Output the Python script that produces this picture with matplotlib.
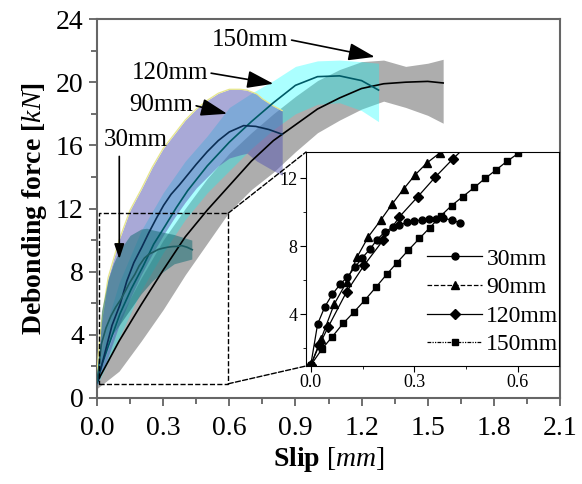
import matplotlib
matplotlib.use("Agg")
import matplotlib.pyplot as plt
from matplotlib.patches import Rectangle, ConnectionPatch
from matplotlib.lines import Line2D

plt.rcParams['font.family'] = ['Liberation Serif', 'DejaVu Serif']
plt.rcParams['mathtext.fontset'] = 'custom'
plt.rcParams['mathtext.rm'] = 'Liberation Serif'
plt.rcParams['mathtext.it'] = 'Liberation Serif:italic'
plt.rcParams['mathtext.bf'] = 'Liberation Serif:bold'

# ---------------- main plot data ----------------
# 150 mm (black line, gray band)
x150 = [0, 0.1, 0.2, 0.3, 0.4, 0.5, 0.6, 0.7, 0.8, 0.9, 1.0, 1.1, 1.2, 1.3, 1.4, 1.5, 1.57]
y150 = [1.0, 3.6, 5.9, 8.1, 10.2, 11.9, 13.45, 15.0, 16.3, 17.3, 18.3, 19.0, 19.6, 19.9, 20.0, 20.05, 19.95]
up150 = [1.2, 5.0, 7.6, 10.0, 12.0, 13.9, 15.5, 16.8, 18.0, 19.1, 20.1, 20.8, 21.3, 21.4, 21.0, 21.2, 21.45]
lo150 = [0.6, 1.7, 3.6, 5.6, 7.8, 9.8, 11.8, 13.2, 14.3, 15.6, 16.8, 17.6, 18.3, 18.8, 18.4, 17.9, 17.4]

# 120 mm (dark teal line, cyan band)
x120 = [0, 0.025, 0.051, 0.104, 0.155, 0.21, 0.257, 0.31, 0.36, 0.411, 0.5, 0.6, 0.7, 0.8, 0.9, 1.0, 1.1, 1.2, 1.277]
y120 = [1.0, 2.2, 3.27, 5.33, 6.9, 8.37, 9.74, 10.92, 12.06, 13.13, 14.7, 16.2, 17.5, 18.7, 19.8, 20.35, 20.4, 20.1, 19.5]
xb120 = [0, 0.05, 0.1, 0.2, 0.3, 0.4, 0.5, 0.6, 0.7, 0.8, 0.9, 1.0, 1.1, 1.2, 1.277]
up120 = [1.5, 5.0, 7.3, 10.6, 13.0, 15.0, 16.6, 18.4, 19.3, 20.1, 21.0, 21.35, 21.4, 21.3, 21.2]
lo120 = [0.8, 2.3, 3.8, 6.8, 9.2, 11.3, 13.0, 14.4, 15.8, 17.0, 18.0, 18.6, 18.7, 18.2, 17.5]

# 90 mm (navy line, lavender band)
x90 = [0, 0.03, 0.068, 0.104, 0.135, 0.167, 0.203, 0.235, 0.27, 0.302, 0.336, 0.374, 0.45, 0.5, 0.55, 0.6, 0.665, 0.72, 0.78, 0.84]
y90 = [1.0, 2.55, 4.6, 5.9, 7.4, 8.57, 9.55, 10.47, 11.4, 12.2, 12.9, 13.5, 14.8, 15.6, 16.3, 16.85, 17.25, 17.2, 17.0, 16.7]
xb90 = [0, 0.006, 0.021, 0.05, 0.1, 0.15, 0.2, 0.25, 0.3, 0.35, 0.4, 0.45, 0.5, 0.55, 0.6, 0.65, 0.68, 0.725, 0.75, 0.8, 0.84]
up90 = [1.5, 2.8, 4.9, 7.6, 10.0, 11.9, 13.2, 14.6, 15.8, 16.7, 17.6, 18.3, 18.85, 19.3, 19.55, 19.55, 19.5, 19.25, 18.95, 18.5, 18.2]
lo90 = [0.8, 1.0, 1.6, 2.6, 4.6, 6.3, 7.8, 9.1, 10.3, 11.4, 12.4, 13.3, 14.0, 14.7, 15.2, 15.4, 15.5, 15.0, 14.8, 14.4, 14.1]

# 30 mm (teal line, dark-teal band)
x30 = [0, 0.02, 0.041, 0.063, 0.085, 0.106, 0.128, 0.148, 0.172, 0.191, 0.215, 0.237, 0.257, 0.278, 0.30, 0.321, 0.343, 0.363, 0.384, 0.408, 0.432]
y30 = [1.0, 3.43, 4.45, 5.19, 5.76, 6.2, 6.76, 7.3, 7.84, 8.37, 8.86, 9.12, 9.25, 9.41, 9.49, 9.55, 9.59, 9.6, 9.65, 9.55, 9.39]
xb30 = [0, 0.014, 0.02, 0.05, 0.074, 0.1, 0.15, 0.2, 0.225, 0.25, 0.3, 0.35, 0.43]
up30 = [1.5, 3.5, 5.5, 7.5, 8.5, 9.3, 10.3, 10.7, 10.75, 10.65, 10.5, 10.35, 10.0]
lo30 = [0.7, 2.0, 2.3, 3.4, 4.1, 4.6, 5.6, 6.6, 7.0, 7.4, 8.0, 8.5, 8.8]

# ---------------- inset data ----------------
ix30, iy30 = x30, y30
ix90 = [0, 0.03, 0.068, 0.104, 0.135, 0.167, 0.203, 0.235, 0.27, 0.302, 0.336, 0.374]
iy90 = [1.0, 2.55, 4.6, 5.9, 7.4, 8.57, 9.55, 10.47, 11.4, 12.2, 12.9, 13.5]
ix120 = [0, 0.025, 0.051, 0.104, 0.155, 0.21, 0.257, 0.31, 0.36, 0.411, 0.46]
iy120 = [1.0, 2.2, 3.27, 5.33, 6.9, 8.37, 9.74, 10.92, 12.06, 13.13, 14.1]
ix150 = [0, 0.032, 0.061, 0.094, 0.125, 0.157, 0.189, 0.22, 0.25, 0.283, 0.315, 0.345, 0.376,
         0.408, 0.44, 0.474, 0.505, 0.537, 0.568, 0.601]
iy150 = [1.0, 1.94, 2.65, 3.47, 4.13, 4.84, 5.6, 6.35, 7.04, 7.78, 8.47, 9.1, 9.78,
         10.4, 10.92, 11.47, 12.0, 12.5, 13.0, 13.47]

labels = ['30mm', '90mm', '120mm', '150mm']

fig = plt.figure(figsize=(5.82, 4.84), dpi=100)
ax = fig.add_axes([0.1667, 0.1777, 0.7955, 0.783])

# bands
ax.fill_between(x150, lo150, up150, color='#a4a4a4', alpha=0.9, lw=0, zorder=1)
ax.fill_between(xb120, lo120, up120, color='#00ffff', alpha=0.33, lw=0, zorder=2)
ax.fill_between(xb90, lo90, up90, color='#5555b0', alpha=0.5, lw=0, zorder=3)
ax.plot(xb90, up90, color='#e6e68a', lw=0.9, zorder=3)
ax.fill_between(xb30, lo30, up30, color='#1a6f78', alpha=0.55, lw=0, zorder=4)

# mean lines
ax.plot(x150, y150, color='black', lw=1.2, zorder=6)
ax.plot(x120, y120, color='#005a66', lw=1.2, zorder=6)
ax.plot(x90, y90, color='#0b2e55', lw=1.2, zorder=6)
ax.plot(x30, y30, color='#1c5c62', lw=1.2, zorder=6)

ax.set_xlim(0, 2.1)
ax.set_ylim(0, 24)
ax.set_xticks([0.0, 0.3, 0.6, 0.9, 1.2, 1.5, 1.8, 2.1])
ax.set_xticks([0.15, 0.45, 0.75, 1.05, 1.35, 1.65, 1.95], minor=True)
ax.set_yticks([0, 4, 8, 12, 16, 20, 24])
ax.set_yticks([2, 6, 10, 14, 18, 22], minor=True)
ax.set_xticklabels(['0.0', '0.3', '0.6', '0.9', '1.2', '1.5', '1.8', '2.1'])
ax.tick_params(which='both', direction='out', labelsize=20, color='#555555', width=1.2, top=False, right=False)
ax.tick_params(which='major', length=6)
ax.tick_params(axis='x', which='both', pad=7)
ax.tick_params(which='minor', length=4)
for s in ax.spines.values():
    s.set_color('#666666')
    s.set_linewidth(1.5)
ax.set_xlabel(r'$\mathbf{Slip}$ [$\mathit{mm}$]', fontsize=20, labelpad=3)
ax.set_ylabel(r'Debonding force [$\mathit{kN}$]', fontsize=20, fontweight='bold', labelpad=5)

# annotations
ap = dict(arrowstyle='-|>,head_length=0.9,head_width=0.3', color='black', lw=1.2, shrinkA=0, shrinkB=0)
ax.annotate('150mm', xy=(1.26, 21.6), xytext=(0.87, 22.7), ha='right', va='center', fontsize=18,
            arrowprops=dict(ap, relpos=(1, 0.5)), zorder=10)
ax.annotate('120mm', xy=(0.80, 19.9), xytext=(0.505, 20.6), ha='right', va='center', fontsize=18,
            arrowprops=dict(ap, relpos=(1, 0.5)), zorder=10)
ax.annotate('90mm', xy=(0.59, 18.0), xytext=(0.437, 18.55), ha='right', va='center', fontsize=18,
            arrowprops=dict(ap, relpos=(1, 0.5)), zorder=10)
ax.annotate('', xy=(0.101, 8.8), xytext=(0.101, 15.3), arrowprops=ap, zorder=10)
ax.text(0.177, 16.35, '30mm', ha='center', va='center', fontsize=18, zorder=10)

# zoom rectangle
ax.add_patch(Rectangle((0.01, 0.9), 0.585, 10.8, fill=False, ls='--', lw=1.0, ec='black', zorder=7))

# inset
ins = fig.add_axes([0.5258, 0.2438, 0.4347, 0.4421])
ins.plot(ix30, iy30, color='black', lw=0.9, marker='o', ms=5)
ins.plot(ix90, iy90, color='black', lw=0.9, marker='^', ms=6)
ins.plot(ix120, iy120, color='black', lw=0.9, marker='D', ms=5)
ins.plot(ix150, iy150, color='black', lw=0.9, marker='s', ms=5)
ins.set_xlim(-0.0136, 0.719)
ins.set_ylim(0.96, 13.55)
ins.set_xticks([0.0, 0.3, 0.6])
ins.set_xticks([0.15, 0.45], minor=True)
ins.set_yticks([4, 8, 12])
ins.set_yticks([2, 6, 10], minor=True)
ins.set_xticklabels(['0.0', '0.3', '0.6'])
ins.tick_params(which='both', direction='out', labelsize=13, top=False, right=False, pad=2)
ins.tick_params(which='major', length=4)
ins.tick_params(which='minor', length=2)

handles = [
    Line2D([], [], color='black', lw=0.9, ls='-', marker='o', ms=5),
    Line2D([], [], color='black', lw=0.9, ls='--', marker='^', ms=6),
    Line2D([], [], color='black', lw=0.9, ls='-', marker='D', ms=5),
    Line2D([], [], color='black', lw=0.9, ls=(0, (3, 1, 1, 1, 1, 1)), marker='s', ms=5),
]
ins.legend(handles, labels, loc='lower right', bbox_to_anchor=(1.04, 0.0), frameon=False, fontsize=17,
           handlelength=2.3, handletextpad=0.2, labelspacing=0.3, borderaxespad=0.05)

# connector lines
for ya, yb in [(0.9, 0), (11.7, 1)]:
    con = ConnectionPatch(xyA=(0.595, ya), coordsA=ax.transData, xyB=(0, yb), coordsB=ins.transAxes,
                          ls='--', lw=1.0, color='black')
    fig.add_artist(con)

fig.savefig('out.png', dpi=100)
